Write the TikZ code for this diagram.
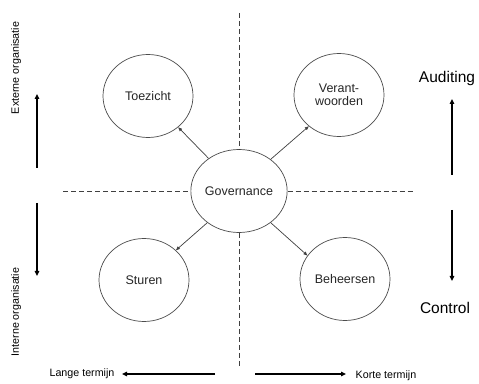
\documentclass[tikz,border=0pt]{standalone}
\usepackage{fontspec}
\setmainfont{Liberation Sans}
\usetikzlibrary{shapes.geometric,arrows.meta}
\begin{document}
\begin{tikzpicture}[x=1pt,y=1pt,
  bubble/.style={ellipse,draw=black!70,line width=0.7pt,minimum width=90pt,minimum height=83pt,
    inner sep=0pt,font=\fontsize{12.5}{13.5}\selectfont,text=black!85,align=center},
  link/.style={draw=black!75,line width=0.7pt,-{Triangle[length=4pt,width=3.2pt]}},
  axis/.style={draw=black!75,line width=0.7pt,dash pattern=on 5pt off 3pt},
  bold/.style={draw=black,line width=1.7pt,-{Triangle[length=5pt,width=4.5pt]}},
  side/.style={font=\fontsize{15.5}{17}\selectfont,text=black},
  small/.style={font=\fontsize{10.7}{12}\selectfont,text=black}]
\useasboundingbox[fill=white] (0,0) rectangle (479,383);

% central node and the four quadrants
\node[bubble] (gov) at (239,192) {Governance};
\node[bubble] (toe) at (148,287) {Toezicht};
\node[bubble] (ver) at (339,288) {Verant-\\woorden};
\node[bubble] (stu) at (144,103) {Sturen};
\node[bubble] (beh) at (345,104) {Beheersen};

% dashed axes
\coordinate (vt) at (239,370);
\coordinate (vb) at (239,15);
\coordinate (hl) at (63,192);
\coordinate (hr) at (414,192);
\draw[axis] (vt) -- (gov.north);
\draw[axis] (gov.south) -- (vb);
\draw[axis] (hl) -- (gov.west);
\draw[axis] (gov.east) -- (hr);

% connectors from the centre
\draw[link] (gov.133) -- (toe.-46);
\draw[link] (gov.45) -- (ver.226);
\draw[link] (gov.225) -- (stu.43);
\draw[link] (gov.-45) -- (beh.148);

% left side: external / internal organisation
\coordinate (lu1) at (37,215);
\coordinate (lu2) at (37,289);
\coordinate (ld1) at (37,180);
\coordinate (ld2) at (37,107);
\draw[bold] (lu1) -- (lu2);
\draw[bold] (ld1) -- (ld2);
\node[small,rotate=90] (ext) at (16,315) {Externe organisatie};
\node[small,rotate=90] (int) at (16,71) {Interne organisatie};

% right side: auditing / control
\coordinate (ru1) at (452,208);
\coordinate (ru2) at (452,284);
\coordinate (rd1) at (452,173);
\coordinate (rd2) at (452,102);
\draw[bold] (ru1) -- (ru2);
\draw[bold] (rd1) -- (rd2);
\node[side] (aud) at (447,305) {Auditing};
\node[side] (con) at (445,75) {Control};

% bottom: long / short term
\coordinate (bl1) at (215,9);
\coordinate (bl2) at (122,9);
\coordinate (br1) at (255,9);
\coordinate (br2) at (346,9);
\draw[bold] (bl1) -- (bl2);
\draw[bold] (br1) -- (br2);
\node[small] (lang) at (82,9) {Lange termijn};
\node[small] (kort) at (386,7) {Korte termijn};
\end{tikzpicture}
\end{document}
